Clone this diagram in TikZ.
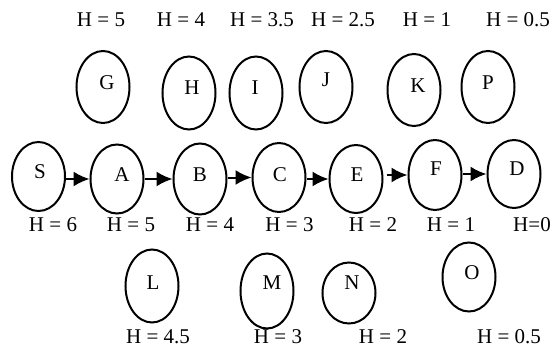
\documentclass[tikz,border=0pt]{standalone}
\usepackage{fontspec}
\setmainfont{Liberation Serif}
\usetikzlibrary{shapes.geometric, arrows.meta}

\begin{document}
\begin{tikzpicture}[x=0.5pt, y=-0.5pt,
    st/.style={ellipse, draw, line width=1pt, minimum width=26.5pt, inner sep=0pt},
    lt/.style={font=\fontsize{10.5}{12}\selectfont, inner sep=0pt},
    arr/.style={line width=1pt, -{Latex[length=8pt, width=7.5pt]}}]
\useasboundingbox (0,0) rectangle (553,348);
% states: name / centre / height / letter position
\foreach \name/\x/\y/\h/\lx/\ly in {
    G/103/87/72/107/83,
    H/189/93/73/192/88,
    I/256/93/73/255/88,
    J/326/87/72/326/80,
    K/414/90/72/418/86,
    P/488/87/72/488/83,
    S/38.5/176.5/69/40/172,
    A/117/179/69/122/175,
    B/200/179/71/200/175,
    C/279/177.5/69/280/175,
    E/356/179/68/357/175,
    F/435/175/70/436/169,
    D/514/174/68/517/169,
    L/152/286/73/153/283,
    M/267/291/75/272/283,
    N/349/293/61/352/283,
    O/469/277/69/472/273
} {
    \node[st, minimum height=\h*0.5pt] (\name) at (\x,\y) {};
    \node[lt] (t\name) at (\lx,\ly) {\name};
}
% heuristic values
\foreach \txt/\x/\y [count=\i] in {
    H = 5/101/20, H = 4/181/20, H = 3.5/262/20, H = 2.5/343/20, H = 1/427/20, H = 0.5/518/20,
    H = 6/53/225, H = 5/131/225, H = 4/210/225, H = 3/289.5/225, H = 2/373/225, H = 1/451/225, H=0/532/225,
    H = 4.5/158/337, H = 3/278/337, H = 2/383/337, H = 0.5/509/337
} {
    \node[lt] (h\i) at (\x,\y) {\txt};
}
\foreach \a/\b in {S/A, A/B, B/C, C/E, F/D}
    \draw[arr] (\a.east |- \b.west) -- (\b.west);
\draw[arr, shorten <=1.5pt] (E.east |- F.west) -- (F.west);
\end{tikzpicture}
\end{document}
